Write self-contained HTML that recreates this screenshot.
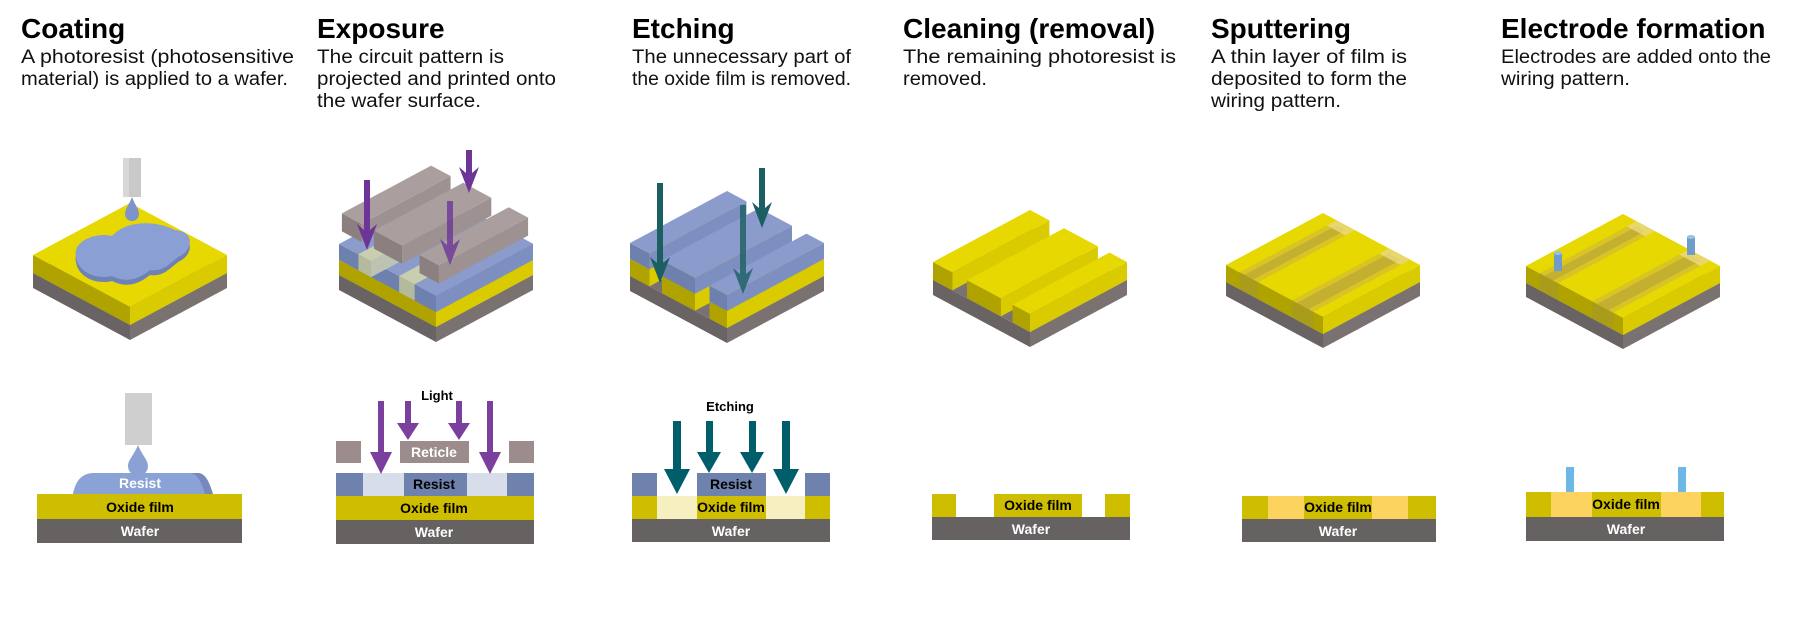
<!DOCTYPE html>
<html><head><meta charset="utf-8">
<style>
html,body{margin:0;padding:0;background:#fff;}
svg{display:block;}
.t{font-family:"Liberation Sans",sans-serif;font-weight:bold;font-size:28px;fill:#000;}
.d{font-family:"Liberation Sans",sans-serif;font-size:19px;fill:#111;}
.l{font-family:"Liberation Sans Narrow","Liberation Sans",sans-serif;font-weight:bold;font-size:14px;text-anchor:middle;}
</style></head>
<body>
<svg id="s" width="1800" height="635" viewBox="0 0 1800 635" xmlns="http://www.w3.org/2000/svg">
<rect width="1800" height="635" fill="#fff"/>
<text class="t" x="21" y="38">Coating</text>
<text class="d" x="21" y="63" textLength="273" lengthAdjust="spacingAndGlyphs">A photoresist (photosensitive</text>
<text class="d" x="21" y="85" textLength="267" lengthAdjust="spacingAndGlyphs">material) is applied to a wafer.</text>

<text class="t" x="317" y="38">Exposure</text>
<text class="d" x="317" y="63" textLength="187" lengthAdjust="spacingAndGlyphs">The circuit pattern is</text>
<text class="d" x="317" y="85" textLength="239" lengthAdjust="spacingAndGlyphs">projected and printed onto</text>
<text class="d" x="317" y="107" textLength="164" lengthAdjust="spacingAndGlyphs">the wafer surface.</text>

<text class="t" x="632" y="38">Etching</text>
<text class="d" x="632" y="63" textLength="219" lengthAdjust="spacingAndGlyphs">The unnecessary part of</text>
<text class="d" x="632" y="85" textLength="219" lengthAdjust="spacingAndGlyphs">the oxide film is removed.</text>

<text class="t" x="903" y="38">Cleaning (removal)</text>
<text class="d" x="903" y="63" textLength="273" lengthAdjust="spacingAndGlyphs">The remaining photoresist is</text>
<text class="d" x="903" y="85" textLength="84" lengthAdjust="spacingAndGlyphs">removed.</text>

<text class="t" x="1211" y="38">Sputtering</text>
<text class="d" x="1211" y="63" textLength="196" lengthAdjust="spacingAndGlyphs">A thin layer of film is</text>
<text class="d" x="1211" y="85" textLength="196" lengthAdjust="spacingAndGlyphs">deposited to form the</text>
<text class="d" x="1211" y="107" textLength="130" lengthAdjust="spacingAndGlyphs">wiring pattern.</text>

<text class="t" x="1501" y="38">Electrode formation</text>
<text class="d" x="1501" y="63" textLength="270" lengthAdjust="spacingAndGlyphs">Electrodes are added onto the</text>
<text class="d" x="1501" y="85" textLength="129" lengthAdjust="spacingAndGlyphs">wiring pattern.</text>

<g id="iso"></g>

<g id="coatExtra">
<path d="M76,257 C72,240 98,232 112,236 C128,218 160,222 175,230 C196,232 192,250 180,256 C170,262 165,272 150,270 C140,278 128,284 112,276 C96,280 78,272 76,257 Z" fill="#6f82b5" transform="translate(0,5)"/>
<path d="M76,257 C72,240 98,232 112,236 C128,218 160,222 175,230 C196,232 192,250 180,256 C170,262 165,272 150,270 C140,278 128,284 112,276 C96,280 78,272 76,257 Z" fill="#8a9fd4"/>
<rect x="123" y="158" width="18" height="39" fill="#c9c9c9"/>
<rect x="123" y="158" width="6" height="39" fill="#d8d8d8"/>
<path d="M132,197 C129,205 125,209 125,214 A7,7 0 0 0 139,214 C139,209 135,205 132,197Z" fill="#7e93c9"/>
</g>

<rect x="125" y="393" width="27" height="52" fill="#cfcfcf"/>
<path d="M73,494 C76,480 82,473 95,473 L198,473 C206,473 210,484 213,494 Z" fill="#7589bd"/>
<path d="M73,494 C76,480 82,473 95,473 L190,473 C198,473 202,484 205,494 Z" fill="#8ba2d6"/>
<path d="M138,445 C134,455 128,460 128,466 A10,10 0 0 0 148,466 C148,460 142,455 138,445Z" fill="#8aa1d4"/>
<rect x="37" y="494" width="205" height="25" fill="#cfbd00"/>
<rect x="37" y="519" width="205" height="24" fill="#666262"/>
<text class="l" x="140" y="488" fill="#fff">Resist</text>
<text class="l" x="140" y="512" fill="#000">Oxide film</text>
<text class="l" x="140" y="536" fill="#fff">Wafer</text>

<rect x="336" y="441" width="25" height="22" fill="#9c8c8c"/>
<rect x="400" y="441" width="69" height="22" fill="#9c8c8c"/>
<rect x="509" y="441" width="25" height="22" fill="#9c8c8c"/>
<rect x="336" y="473" width="198" height="23" fill="#d8dee9"/>
<rect x="336" y="473" width="27" height="23" fill="#6f82ad"/>
<rect x="404" y="473" width="63" height="23" fill="#6f82ad"/>
<rect x="507" y="473" width="27" height="23" fill="#6f82ad"/>
<rect x="336" y="496" width="198" height="24" fill="#cfbd00"/>
<rect x="336" y="520" width="198" height="24" fill="#666262"/>
<text class="l" x="434" y="457" fill="#fff">Reticle</text>
<text class="l" x="434" y="489" fill="#000">Resist</text>
<text class="l" x="434" y="513" fill="#000">Oxide film</text>
<text class="l" x="434" y="537" fill="#fff">Wafer</text>
<text class="l" x="437" y="400" fill="#000" style="font-size:13px">Light</text>
<g fill="#7b3f9e">
<polygon points="378,401 384,401 384,452 392,452 381,474 370,452 378,452"/>
<polygon points="487,401 493,401 493,452 501,452 490,474 479,452 487,452"/>
<polygon points="405,401 411,401 411,423 419,423 408,440 397,423 405,423"/>
<polygon points="456,401 462,401 462,423 470,423 459,440 448,423 456,423"/>
</g>

<rect x="632" y="473" width="198" height="23" fill="#fff"/>
<rect x="632" y="473" width="25" height="23" fill="#6f82ad"/>
<rect x="697" y="473" width="69" height="23" fill="#6f82ad"/>
<rect x="805" y="473" width="25" height="23" fill="#6f82ad"/>
<rect x="632" y="496" width="198" height="23" fill="#cfbd00"/>
<rect x="657" y="496" width="40" height="23" fill="#f6efbf"/>
<rect x="766" y="496" width="39" height="23" fill="#f6efbf"/>
<rect x="632" y="519" width="198" height="23" fill="#666262"/>
<text class="l" x="731" y="489" fill="#000">Resist</text>
<text class="l" x="731" y="512" fill="#000">Oxide film</text>
<text class="l" x="731" y="536" fill="#fff">Wafer</text>
<text class="l" x="730" y="411" fill="#000" style="font-size:13px">Etching</text>
<g fill="#005e6b">
<polygon points="673,421 681,421 681,469 690,469 677,494 664,469 673,469"/>
<polygon points="782,421 790,421 790,469 799,469 786,494 773,469 782,469"/>
<polygon points="706,421 713,421 713,452 721,452 709,473 697,452 706,452"/>
<polygon points="749,421 756,421 756,452 764,452 752,473 740,452 749,452"/>
</g>

<rect x="932" y="494" width="24" height="23" fill="#cfbd00"/>
<rect x="994" y="494" width="88" height="23" fill="#cfbd00"/>
<rect x="1105" y="494" width="25" height="23" fill="#cfbd00"/>
<rect x="932" y="517" width="198" height="23" fill="#666262"/>
<text class="l" x="1038" y="510" fill="#000">Oxide film</text>
<text class="l" x="1031" y="534" fill="#fff">Wafer</text>

<rect x="1242" y="496" width="194" height="23" fill="#cfbd00"/>
<rect x="1268" y="496" width="36" height="23" fill="#fdd35f"/>
<rect x="1372" y="496" width="36" height="23" fill="#fdd35f"/>
<rect x="1242" y="519" width="194" height="23" fill="#666262"/>
<text class="l" x="1338" y="512" fill="#000">Oxide film</text>
<text class="l" x="1338" y="536" fill="#fff">Wafer</text>

<rect x="1566" y="467" width="8" height="25" fill="#6cb8e6"/>
<rect x="1678" y="467" width="8" height="25" fill="#6cb8e6"/>
<rect x="1526" y="492" width="198" height="25" fill="#cfbd00"/>
<rect x="1551" y="492" width="41" height="25" fill="#fdd35f"/>
<rect x="1661" y="492" width="40" height="25" fill="#fdd35f"/>
<rect x="1526" y="517" width="198" height="24" fill="#666262"/>
<text class="l" x="1626" y="509" fill="#000">Oxide film</text>
<text class="l" x="1626" y="534" fill="#fff">Wafer</text>

<g id="arrows"></g>
</svg>
<script>
(function(){
var NS="http://www.w3.org/2000/svg";
var iso=document.getElementById('iso');
var W=97,H=52;
function P(T,u,v,h){return (T[0]+W*(u-v)).toFixed(1)+","+(T[1]+H*(u+v)-h).toFixed(1);}
function poly(g,pts,fill,op){var p=document.createElementNS(NS,'polygon');p.setAttribute('points',pts.join(' '));p.setAttribute('fill',fill);if(op)p.setAttribute('opacity',op);g.appendChild(p);}
function box(T,u0,u1,v0,v1,h0,h1,c,g){
 g=g||iso;
 poly(g,[P(T,u0,v1,h1),P(T,u1,v1,h1),P(T,u1,v1,h0),P(T,u0,v1,h0)],c[1]);
 poly(g,[P(T,u1,v0,h1),P(T,u1,v1,h1),P(T,u1,v1,h0),P(T,u1,v0,h0)],c[2]);
 poly(g,[P(T,u0,v0,h1),P(T,u1,v0,h1),P(T,u1,v1,h1),P(T,u0,v1,h1)],c[0]);
}
var Y=["#e6d800","#b0a300","#d9cb00"],G=["#7a7272","#6a6363","#7a7171"],B=["#8b9bcb","#6e80ad","#7d8fc1"],R=["#aa9e9e","#8b7f7f","#9d9191"];
var T=[130,236];box(T,0,1,0,1,0,15,G);box(T,0,1,0,1,15,33,Y);
T=[436,238];box(T,0,1,0,1,0,15,G);box(T,0,1,0,1,15,30,Y);box(T,0,1,0,1,30,46,B);
var E=["#c9cfae","#b4ba9c","#bcc3b3"];
box(T,0.2,0.33,0,1,30,46.2,E);box(T,0.62,0.78,0,1,30,46.2,E);
box(T,0.78,1,0,1,30,46.3,B);
box(T,0.0,0.2,0.05,0.97,57,75,R);box(T,0.33,0.62,0.05,0.97,57,75,R);box(T,0.8,1.0,0.05,0.97,57,75,R);
T=[727,239];box(T,0,1,0,1,0,15,G);
[[0,0.2],[0.33,0.67],[0.82,1]].forEach(function(r){box(T,r[0],r[1],0,1,15,32,Y);box(T,r[0],r[1],0,1,32,48,B);});
T=[1030,243];box(T,0,1,0,1,0,15,G);
[[0,0.2],[0.35,0.7],[0.82,1]].forEach(function(r){box(T,r[0],r[1],0,1,15,33,Y);});
[[1323,244],[1623,245]].forEach(function(T,i){
 box(T,0,1,0,1,0,14,G);box(T,0,1,0,1,14,31,Y);
 [[0.14,0.33],[0.68,0.9]].forEach(function(r){
  poly(iso,[P(T,r[0],0,31),P(T,r[1],0,31),P(T,r[1],1,31),P(T,r[0],1,31)],"#d9c425");
  var m0=r[0]+0.05,m1=r[1]-0.05;
  poly(iso,[P(T,m0,0.05,31),P(T,m1,0.05,31),P(T,m1,1,31),P(T,m0,1,31)],"#c4b030");
  poly(iso,[P(T,r[0],1,31),P(T,r[1],1,31),P(T,r[1],1,14),P(T,r[0],1,14)],"#a89a20",0.8);
  poly(iso,[P(T,r[0],0,31),P(T,r[1],0,31),P(T,r[1],0.1,31),P(T,r[0],0.1,31)],"#efe08a",0.7);
 });
 if(i==1){
  [[1558,253,18],[1691,237,18]].forEach(function(e){
   var r=document.createElementNS(NS,'rect');r.setAttribute('x',e[0]-4);r.setAttribute('y',e[1]);r.setAttribute('width',8);r.setAttribute('height',e[2]);r.setAttribute('fill','#6f9cc9');iso.appendChild(r);
   var c=document.createElementNS(NS,'ellipse');c.setAttribute('cx',e[0]);c.setAttribute('cy',e[1]);c.setAttribute('rx',4);c.setAttribute('ry',2);c.setAttribute('fill','#9cc0e0');iso.appendChild(c);
  });
 }
});
var ce=document.getElementById('coatExtra');ce.parentNode.appendChild(ce);
var ag=document.getElementById('arrows');
function arr(x,y0,y1,c,op){var s=3,hw=10,hl=20;poly(ag,[(x-s)+","+y0,(x+s)+","+y0,(x+s)+","+(y1-hl),(x+hw)+","+(y1-hl-6),x+","+y1,(x-hw)+","+(y1-hl-6),(x-s)+","+(y1-hl)],c,op);}
arr(367,180,250,"#6c3596");arr(469,150,193,"#6c3596");arr(450,201,265,"#6c3596",0.8);
arr(660,183,283,"#1c5f63");arr(762,168,228,"#1c5f63");arr(743,205,294,"#1c5f63",0.8);
})();
</script>
</body></html>
